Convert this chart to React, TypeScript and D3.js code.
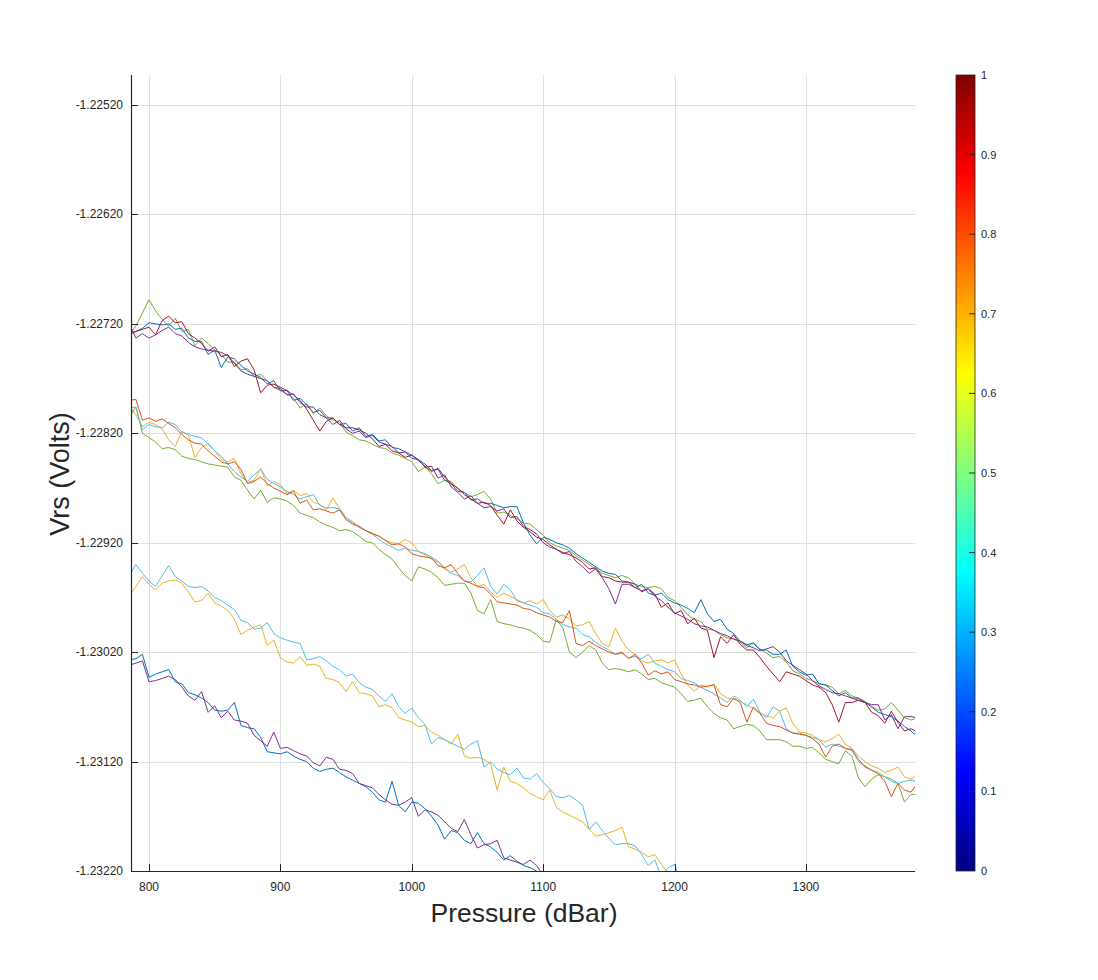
import React, { useRef, useEffect } from "react";
import * as d3 from "d3";

// Vrs values stored as offsets: volts = -1.22 - u / 1e5
// every trace is sampled every 5 dBar starting at 785 dBar
const START_P = 785;
const STEP_P = 5;

const topBlue = [
  728, 727, 724, 719, 720, 721, 720, 725, 724, 733,
  736, 736, 748, 744, 760, 750, 752, 758, 763, 766,
  769, 775, 772, 781, 781, 790, 788, 794, 801, 799,
  806, 806, 812, 811, 818, 815, 823, 821, 827, 826,
  833, 834, 837, 840, 844, 848, 854, 853, 863, 866,
  873, 874, 881, 880, 884, 884, 886, 888, 887, 887,
  902, 913, 921, 915, 917, 920, 922, 925, 930, 934,
  938, 942, 946, 948, 949, 955, 956, 961, 958, 966,
  968, 966, 972, 975, 977, 980, 984, 972, 985, 992,
  990, 999, 1003, 1010, 1013, 1012, 1018, 1018, 1022, 1022,
  1018, 1033, 1038, 1041, 1040, 1049, 1050, 1055, 1060, 1057,
  1062, 1064, 1066, 1070, 1075, 1077, 1079, 1083, 1088, 1092,
  1098,
];
const topPurple = [
  720, 733, 729, 733, 730, 726, 723, 729, 731, 737,
  741, 743, 744, 745, 746, 749, 756, 763, 766, 768,
  770, 772, 778, 779, 785, 784, 792, 796, 796, 803,
  806, 812, 808, 816, 820, 818, 824, 822, 828, 830,
  832, 838, 837, 843, 844, 851, 850, 861, 858, 869,
  874, 880, 877, 884, 888, 887, 891, 889, 897, 896,
  905, 908, 912, 920, 924, 926, 930, 928, 937, 942,
  948, 944, 952, 962, 976, 958, 958, 961, 964, 962,
  969, 973, 979, 984, 987, 990, 994, 996, 997, 1000,
  1003, 1005, 1008, 1010, 1014, 1016, 1019, 1017, 1015, 1020,
  1028, 1032, 1036, 1040, 1046, 1051, 1054, 1057, 1058, 1060,
  1062, 1062, 1066, 1068, 1068, 1082, 1077, 1090, 1079, 1079,
  1080,
];
const topGreen = [
  730, 722, 710, 698, 708, 716, 722, 715, 727, 725,
  740, 733, 738, 744, 748, 755, 755, 762, 761, 768,
  766, 772, 778, 781, 784, 788, 797, 793, 802, 797,
  804, 808, 810, 819, 822, 826, 827, 830, 833, 834,
  838, 840, 843, 846, 855, 851, 857, 866, 863, 864,
  871, 874, 878, 876, 873, 880, 893, 892, 895, 898,
  902, 903, 908, 913, 920, 923, 925, 927, 932, 936,
  940, 944, 948, 950, 952, 950, 952, 958, 960, 961,
  960, 962, 970, 973, 979, 986, 990, 992, 999, 1000,
  1004, 1007, 1008, 1011, 1016, 1011, 1017, 1021, 1025, 1024,
  1029, 1037, 1040, 1044, 1046, 1049, 1050, 1052, 1058, 1055,
  1060, 1062, 1065, 1070, 1073, 1072, 1066, 1073, 1080, 1082,
  1080,
];
const topRed = [
  730, 727, 725, 723, 730, 717, 713, 719, 718, 729,
  733, 738, 745, 741, 750, 748, 759, 754, 752, 762,
  783, 776, 775, 778, 781, 785, 790, 798, 808, 818,
  809, 806, 812, 815, 815, 817, 820, 825, 832, 830,
  836, 838, 842, 840, 845, 850, 855, 852, 860, 866,
  870, 876, 880, 884, 883, 886, 895, 903, 890, 900,
  906, 910, 915, 917, 922, 926, 929, 931, 934, 938,
  944, 943, 951, 952, 955, 956, 956, 958, 965, 962,
  967, 979, 975, 985, 982, 994, 989, 998, 1000, 1025,
  1006, 1012, 1004, 1013, 1018, 1018, 1025, 1033, 1040, 1047,
  1038, 1040, 1042, 1046, 1050, 1052, 1057, 1068, 1084, 1066,
  1066, 1064, 1066, 1075, 1078, 1085, 1074, 1084, 1092, 1090,
  1093,
];

const midOrange = [
  790, 789, 808, 806, 809, 807, 811, 815, 821, 826,
  829, 830, 836, 841, 846, 848, 846, 853, 866, 864,
  860, 866, 870, 873, 876, 873, 884, 881, 890, 889,
  891, 893, 890, 899, 903, 905, 909, 912, 914, 918,
  922, 921, 924, 930, 932, 933, 934, 941, 943, 940,
  948, 955, 957, 960, 961, 967, 974, 975, 976, 977,
  980, 981, 984, 986, 988, 992, 993, 982, 1012, 1014,
  1010, 1014, 1017, 1020, 1022, 1020, 1026, 1022, 1030, 1041,
  1037, 1040, 1038, 1045, 1047, 1049, 1050, 1052, 1051, 1050,
  1068, 1070, 1062, 1066, 1084, 1070, 1076, 1085, 1087, 1088,
  1091, 1094, 1095, 1096, 1099, 1104, 1116, 1106, 1104, 1108,
  1109, 1118, 1125, 1128, 1131, 1138, 1152, 1140, 1146, 1148,
  1139,
];
const midSky = [
  797, 796, 817, 812, 814, 815, 810, 812, 819, 821,
  823, 824, 830, 836, 841, 848, 855, 860, 864, 858,
  853, 862, 866, 869, 873, 876, 880, 878, 876, 886,
  888, 888, 889, 897, 901, 906, 909, 912, 917, 921,
  924, 927, 925, 927, 928, 930, 933, 937, 943, 948,
  950, 955, 956, 950, 943, 960, 967, 958, 963, 973,
  975, 977, 979, 984, 985, 990, 995, 997, 998, 1004,
  1006, 1011, 1015, 1018, 1022, 1021, 1025, 1024, 1026, 1022,
  1030, 1033, 1036, 1038, 1044, 1046, 1048, 1052, 1055, 1058,
  1062, 1066, 1060, 1064, 1070, 1063, 1075, 1080, 1070, 1074,
  1090, 1094, 1094, 1096, 1098, 1100, 1107, 1104, 1106, 1108,
  1110, 1120, 1124, 1128, 1130, 1134, 1138, 1140, 1138, 1137,
  1138,
];
const midYellow = [
  795, 803, 814, 810, 812, 816, 826, 832, 818, 822,
  842, 833, 829, 836, 844, 846, 843, 857, 865, 863,
  852, 868, 864, 867, 875, 872, 877, 875, 883, 885,
  890, 879, 889, 897, 902, 906, 909, 911, 914, 918,
  920, 921, 917, 920, 928, 931, 935, 938, 944, 947,
  944, 940, 952, 960, 958, 965, 970, 966, 969, 972,
  975, 973, 976, 972, 982, 988, 986, 990, 996, 995,
  992, 1003, 1012, 1015, 998, 1010, 1018, 1022, 1028, 1030,
  1028, 1027, 1030, 1027, 1040, 1050, 1056, 1050, 1052, 1049,
  1058, 1062, 1063, 1065, 1068, 1072, 1076, 1078, 1080, 1074,
  1071, 1085, 1093, 1094, 1096, 1100, 1102, 1099, 1095, 1104,
  1108, 1115, 1120, 1124, 1126, 1130, 1128, 1125, 1134, 1136,
  1132,
];
const midGreen = [
  805, 796, 820, 824, 828, 834, 833, 835, 841, 843,
  844, 846, 848, 849, 850, 851, 860, 863, 872, 880,
  872, 883, 879, 880, 882, 886, 893, 895, 897, 901,
  904, 906, 909, 908, 910, 914, 919, 920, 926, 931,
  935, 943, 950, 955, 942, 944, 947, 952, 959, 958,
  957, 957, 966, 982, 985, 972, 992, 994, 995, 997,
  998, 1000, 1004, 1010, 1011, 990, 998, 1020, 1025, 1020,
  1014, 1018, 1030, 1036, 1035, 1036, 1038, 1036, 1040, 1045,
  1044, 1048, 1050, 1052, 1058, 1065, 1064, 1062, 1070, 1076,
  1080, 1082, 1090, 1088, 1086, 1087, 1092, 1100, 1100, 1100,
  1102, 1106, 1106, 1108, 1107, 1112, 1118, 1120, 1122, 1110,
  1115, 1135, 1143, 1136, 1132, 1134, 1136, 1140, 1157, 1150,
  1150,
];

const lowSky = [
  950, 940, 948, 955, 960, 950, 941, 951, 955, 960,
  961, 960, 964, 970, 973, 977, 981, 991, 993, 999,
  998, 993, 1003, 1007, 1009, 1011, 1012, 1027, 1026, 1024,
  1028, 1033, 1036, 1042, 1040, 1048, 1052, 1054, 1060, 1065,
  1058, 1070, 1076, 1071, 1080, 1086, 1104, 1098, 1100, 1103,
  1106, 1109, 1104, 1101, 1125, 1120, 1127, 1130, 1132, 1126,
  1135, 1136, 1131, 1139, 1145, 1152, 1153, 1151, 1155, 1160,
  1182, 1175, 1183, 1190, 1196, 1195, 1195, 1197, 1205, 1215,
  1210, 1225, 1217, 1214, 1230,
];
const lowYellow = [
  968, 960, 951, 958, 963, 957, 955, 954, 957, 965,
  974, 973, 966, 975, 978, 982, 990, 1004, 1000, 997,
  995, 1014, 1009, 1025, 1029, 1030, 1024, 1032, 1031, 1033,
  1044, 1045, 1048, 1056, 1047, 1057, 1058, 1060, 1070, 1068,
  1071, 1080, 1082, 1084, 1088, 1087, 1093, 1096, 1100, 1104,
  1095, 1115, 1117, 1116, 1118, 1122, 1146, 1125, 1138, 1140,
  1144, 1149, 1152, 1155, 1146, 1162, 1166, 1169, 1172, 1175,
  1182, 1188, 1187, 1185, 1183, 1180, 1198, 1200, 1203, 1207,
  1205, 1214, 1222, 1230, 1236,
];

const bottomBlue = [
  1027, 1026, 1022, 1043, 1040, 1038, 1036, 1047, 1049, 1057,
  1059, 1062, 1066, 1073, 1074, 1073, 1066, 1087, 1089, 1090,
  1098, 1111, 1112, 1113, 1111, 1115, 1118, 1120, 1126, 1129,
  1127, 1126, 1130, 1134, 1137, 1140, 1143, 1148, 1155, 1157,
  1138, 1160, 1166, 1157, 1158, 1163, 1170, 1178, 1191, 1183,
  1185, 1192, 1195, 1185, 1195, 1198, 1203, 1210, 1206, 1211,
  1215, 1217, 1220, 1226, 1232,
];
const bottomPurple = [
  1032, 1030, 1028, 1047, 1046, 1044, 1042, 1045, 1052, 1060,
  1064, 1056, 1075, 1069, 1080, 1074, 1082, 1083, 1085, 1096,
  1101, 1106, 1093, 1108, 1107, 1110, 1113, 1115, 1121, 1124,
  1116, 1118, 1127, 1128, 1131, 1140, 1142, 1144, 1150, 1155,
  1159, 1160, 1157, 1153, 1170, 1164, 1166, 1169, 1175, 1181,
  1184, 1173, 1187, 1199, 1196, 1195, 1192, 1208, 1210, 1212,
  1214, 1210, 1215, 1224, 1232,
];

const xTicks = [800, 900, 1000, 1100, 1200, 1300];
const yTicks = [-1.2252, -1.2262, -1.2272, -1.2282, -1.2292, -1.2302, -1.2312, -1.2322];
const colorbarTicks = [0, 0.1, 0.2, 0.3, 0.4, 0.5, 0.6, 0.7, 0.8, 0.9, 1];
const jetStops: [number, string][] = [
  [0, "#000080"],
  [0.125, "#0000ff"],
  [0.375, "#00ffff"],
  [0.625, "#ffff00"],
  [0.875, "#ff0000"],
  [1, "#800000"],
];

const traces = [
  { values: bottomBlue, color: "#0072BD" },
  { values: bottomPurple, color: "#7E2F8E" },
  { values: lowYellow, color: "#EDB120" },
  { values: lowSky, color: "#4DBEEE" },
  { values: midGreen, color: "#77AC30" },
  { values: midYellow, color: "#EDB120" },
  { values: midSky, color: "#4DBEEE" },
  { values: midOrange, color: "#D95319" },
  { values: topGreen, color: "#77AC30" },
  { values: topBlue, color: "#0072BD" },
  { values: topRed, color: "#A2142F" },
  { values: topPurple, color: "#7E2F8E" },
];

const toVolts = (u: number) => -1.22 - u / 1e5;

const W = 1098;
const H = 980;
const FONT = "'Liberation Sans', Arial, Helvetica, sans-serif";
const INK = "#262626";

const App: React.FC = () => {
  const svgRef = useRef<SVGSVGElement | null>(null);

  useEffect(() => {
    if (!svgRef.current) return;
    const svg = d3.select(svgRef.current);
    svg.selectAll("*").remove();

    const plot = { left: 131, right: 915, top: 75, bottom: 871 };

    const x = d3.scaleLinear().domain([786.3, 1383]).range([plot.left, plot.right]);
    const y = d3
      .scaleLinear()
      .domain([-1.2322, -1.224926])
      .range([plot.bottom, plot.top]);

    const defs = svg.append("defs");
    defs
      .append("clipPath")
      .attr("id", "plotClip")
      .append("rect")
      .attr("x", plot.left)
      .attr("y", plot.top)
      .attr("width", plot.right - plot.left)
      .attr("height", plot.bottom - plot.top);

    // grid
    const grid = svg.append("g").attr("stroke", "#dfdfdf").attr("stroke-width", 1);
    grid
      .selectAll("line.gx")
      .data(xTicks)
      .join("line")
      .attr("x1", (d) => Math.round(x(d)) + 0.5)
      .attr("x2", (d) => Math.round(x(d)) + 0.5)
      .attr("y1", plot.top)
      .attr("y2", plot.bottom);
    grid
      .selectAll("line.gy")
      .data(yTicks)
      .join("line")
      .attr("x1", plot.left)
      .attr("x2", plot.right)
      .attr("y1", (d) => Math.round(y(d)) + 0.5)
      .attr("y2", (d) => Math.round(y(d)) + 0.5);

    // traces
    const line = d3
      .line<number>()
      .x((_, i) => x(START_P + i * STEP_P))
      .y((d) => y(toVolts(d)));

    svg
      .append("g")
      .attr("clip-path", "url(#plotClip)")
      .selectAll("path")
      .data(traces)
      .join("path")
      .attr("d", (d) => line(d.values))
      .attr("fill", "none")
      .attr("stroke", (d) => d.color)
      .attr("stroke-width", 1)
      .attr("stroke-linejoin", "round");

    // axes
    const axes = svg.append("g").attr("stroke", INK);
    axes
      .append("line")
      .attr("x1", plot.left + 0.5)
      .attr("x2", plot.left + 0.5)
      .attr("y1", plot.top)
      .attr("y2", plot.bottom + 1)
      .attr("stroke-width", 1.2);
    axes
      .append("line")
      .attr("x1", plot.left)
      .attr("x2", plot.right)
      .attr("y1", plot.bottom + 0.5)
      .attr("y2", plot.bottom + 0.5)
      .attr("stroke-width", 1.2);
    axes
      .selectAll("line.tx")
      .data(xTicks)
      .join("line")
      .attr("x1", (d) => Math.round(x(d)) + 0.5)
      .attr("x2", (d) => Math.round(x(d)) + 0.5)
      .attr("y1", plot.bottom)
      .attr("y2", plot.bottom - 7);
    axes
      .selectAll("line.ty")
      .data(yTicks)
      .join("line")
      .attr("x1", plot.left)
      .attr("x2", plot.left + 7)
      .attr("y1", (d) => Math.round(y(d)) + 0.5)
      .attr("y2", (d) => Math.round(y(d)) + 0.5);

    svg
      .append("g")
      .selectAll("text")
      .data(xTicks)
      .join("text")
      .attr("x", (d) => x(d))
      .attr("y", plot.bottom + 20)
      .attr("text-anchor", "middle")
      .attr("font-family", FONT)
      .attr("font-size", 12)
      .attr("fill", INK)
      .text((d) => String(d));

    svg
      .append("g")
      .selectAll("text")
      .data(yTicks)
      .join("text")
      .attr("x", plot.left - 8)
      .attr("y", (d) => y(d) + 4)
      .attr("text-anchor", "end")
      .attr("font-family", FONT)
      .attr("font-size", 12)
      .attr("fill", INK)
      .text((d) => d.toFixed(5));

    svg
      .append("text")
      .attr("x", 524)
      .attr("y", 922)
      .attr("text-anchor", "middle")
      .attr("font-family", FONT)
      .attr("font-size", 26.5)
      .attr("fill", INK)
      .text("Pressure (dBar)");

    svg
      .append("text")
      .attr("transform", `translate(69,474) rotate(-90)`)
      .attr("text-anchor", "middle")
      .attr("font-family", FONT)
      .attr("font-size", 27)
      .attr("fill", INK)
      .text("Vrs (Volts)");

    // colorbar
    const cb = { left: 956, right: 975 };
    const cbScale = d3.scaleLinear().domain([0, 1]).range([plot.bottom, plot.top]);
    const grad = defs
      .append("linearGradient")
      .attr("id", "jetGradient")
      .attr("x1", "0%")
      .attr("x2", "0%")
      .attr("y1", "100%")
      .attr("y2", "0%");
    grad
      .selectAll("stop")
      .data(jetStops)
      .join("stop")
      .attr("offset", (d) => `${d[0] * 100}%`)
      .attr("stop-color", (d) => d[1]);

    svg
      .append("rect")
      .attr("x", cb.left)
      .attr("y", plot.top)
      .attr("width", cb.right - cb.left)
      .attr("height", plot.bottom - plot.top)
      .attr("fill", "url(#jetGradient)")
      .attr("stroke", INK)
      .attr("stroke-width", 0.8);

    svg
      .append("g")
      .selectAll("line")
      .data(colorbarTicks.slice(1, -1))
      .join("line")
      .attr("x1", cb.right - 6)
      .attr("x2", cb.right)
      .attr("y1", (d) => cbScale(d))
      .attr("y2", (d) => cbScale(d))
      .attr("stroke", INK)
      .attr("stroke-width", 1);

    svg
      .append("g")
      .selectAll("text")
      .data(colorbarTicks)
      .join("text")
      .attr("x", cb.right + 6)
      .attr("y", (d) => cbScale(d) + 4)
      .attr("font-family", FONT)
      .attr("font-size", 11)
      .attr("fill", INK)
      .text((d) => String(d));
  }, []);

  return (
    <div style={{ position: "absolute", left: 0, top: 0 }}>
      <svg ref={svgRef} width={W} height={H} style={{ display: "block", background: "#fff" }} />
    </div>
  );
};

export default App;
